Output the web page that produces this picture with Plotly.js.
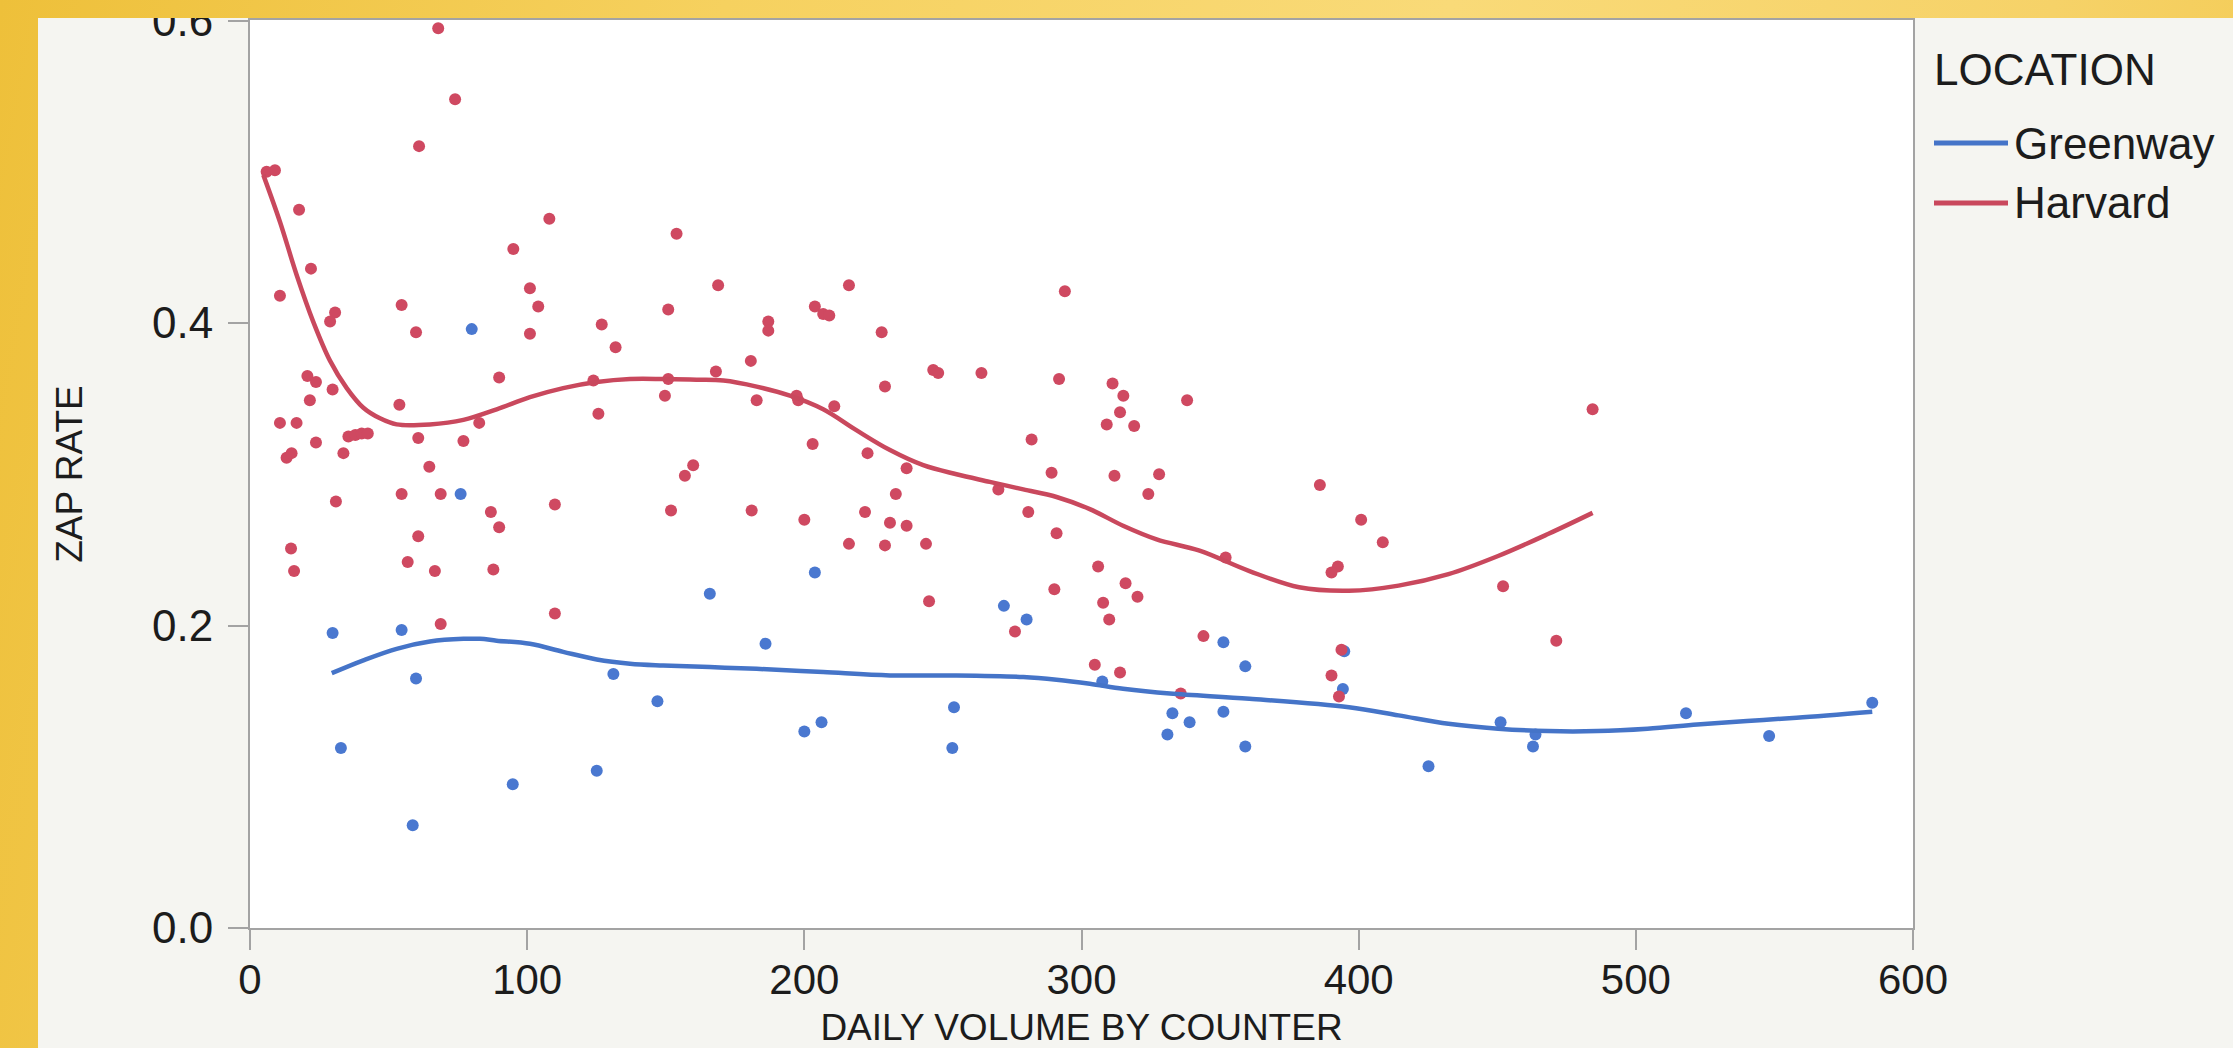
<!DOCTYPE html>
<html>
<head>
<meta charset="utf-8">
<script src="https://cdn.plot.ly/plotly-3.0.1.min.js"></script>
<style>
  html, body { margin:0; padding:0; width:2233px; height:1048px; overflow:hidden; }
  body { background: linear-gradient(100deg, #eec03a 0%, #f6d15f 30%, #f9da78 60%, #f6d268 85%, #f3ca50 100%); background-attachment: fixed; }
  #panel { position:absolute; left:38px; top:18px; right:0; bottom:0; background:#f5f5f1; }
  #chart { position:absolute; left:0; top:0; width:2233px; height:1048px; }
  #topstrip { position:absolute; left:0; top:0; width:2233px; height:18px; z-index:10; pointer-events:none;
    background: linear-gradient(100deg, #eec03a 0%, #f6d15f 30%, #f9da78 60%, #f6d268 85%, #f3ca50 100%); background-attachment: fixed; }
</style>
</head>
<body>
<div id="panel"></div>
<div id="chart"></div>
<div id="topstrip"></div>
<script>
// ---- Data ----
const harvardVolume = [6.0, 9.0, 67.9, 74.0, 61.0, 17.7, 22.0, 10.8, 30.7, 28.9, 54.7, 59.9, 95.0, 108.0, 101.0, 104.0, 101.0, 153.9, 150.9, 126.9,
  131.9, 89.9, 123.9, 150.9, 149.7, 125.7, 20.7, 23.8, 29.8, 21.6, 10.8, 16.8, 53.9, 82.7, 23.8, 35.5, 38.0, 40.3, 42.5, 33.7,
  13.2, 15.0, 60.7, 77.0, 64.7, 159.9, 156.9, 31.0, 54.7, 68.8, 14.8, 15.9, 60.7, 56.9, 66.7, 86.9, 89.9, 87.8, 110.0, 110.0,
  68.8, 151.9, 168.9, 216.1, 203.8, 206.8, 209.0, 187.0, 187.0, 227.9, 294.0, 180.7, 168.1, 246.5, 248.3, 263.9, 291.9, 311.2, 315.1, 313.9,
  309.1, 319.0, 229.1, 182.8, 197.2, 197.8, 210.8, 203.0, 222.8, 236.9, 282.0, 289.2, 311.9, 328.0, 270.0, 324.1, 233.0, 181.0, 200.0, 221.9,
  230.9, 236.9, 216.1, 229.1, 243.9, 280.8, 291.0, 306.0, 315.9, 320.2, 307.8, 310.0, 290.2, 245.0, 276.0, 304.8, 313.9, 338.1, 484.4, 386.0,
  400.9, 408.7, 352.0, 392.5, 390.2, 452.1, 344.0, 471.3, 393.8, 390.2, 392.9, 335.8];
const harvardZap = [0.500, 0.501, 0.595, 0.548, 0.517, 0.475, 0.436, 0.418, 0.407, 0.401, 0.412, 0.394, 0.449, 0.469, 0.423, 0.411, 0.393, 0.459, 0.409, 0.399,
  0.384, 0.364, 0.362, 0.363, 0.352, 0.340, 0.365, 0.361, 0.356, 0.349, 0.334, 0.334, 0.346, 0.334, 0.321, 0.325, 0.326, 0.327, 0.327, 0.314,
  0.311, 0.314, 0.324, 0.322, 0.305, 0.306, 0.299, 0.282, 0.287, 0.287, 0.251, 0.236, 0.259, 0.242, 0.236, 0.275, 0.265, 0.237, 0.280, 0.208,
  0.201, 0.276, 0.425, 0.425, 0.411, 0.406, 0.405, 0.401, 0.395, 0.394, 0.421, 0.375, 0.368, 0.369, 0.367, 0.367, 0.363, 0.360, 0.352, 0.341,
  0.333, 0.332, 0.358, 0.349, 0.352, 0.349, 0.345, 0.320, 0.314, 0.304, 0.323, 0.301, 0.299, 0.300, 0.290, 0.287, 0.287, 0.276, 0.270, 0.275,
  0.268, 0.266, 0.254, 0.253, 0.254, 0.275, 0.261, 0.239, 0.228, 0.219, 0.215, 0.204, 0.224, 0.216, 0.196, 0.174, 0.169, 0.349, 0.343, 0.293,
  0.270, 0.255, 0.245, 0.239, 0.235, 0.226, 0.193, 0.190, 0.184, 0.167, 0.153, 0.155];

const greenwayVolume = [29.8, 32.8, 54.7, 59.9, 58.7, 76.0, 80.0, 94.8, 125.1, 131.1, 147.0, 165.9, 186.0, 200.0, 203.8, 206.2, 253.4, 254.0, 272.0,
  280.2, 307.5, 331.0, 332.8, 339.0, 351.2, 351.2, 359.1, 359.1, 394.8, 394.3, 425.2, 451.2, 462.9, 463.8, 518.1, 548.1, 585.3];
const greenwayZap = [0.195, 0.119, 0.197, 0.165, 0.068, 0.287, 0.396, 0.095, 0.104, 0.168, 0.150, 0.221, 0.188, 0.130, 0.235, 0.136, 0.119, 0.146, 0.213,
  0.204, 0.163, 0.128, 0.142, 0.136, 0.189, 0.143, 0.173, 0.120, 0.183, 0.158, 0.107, 0.136, 0.120, 0.128, 0.142, 0.127, 0.149];

// smoother curves
const harvardFitVolume = [4.8, 10.8, 16.8, 22.8, 28.9, 34.9, 40.9, 46.9, 52.9, 64.9, 77.0, 89.0, 101.0, 113.0, 125.1, 137.1, 149.1, 161.1, 170.8, 182.8,
  194.8, 206.8, 218.9, 230.9, 242.9, 254.9, 266.9, 279.0, 291.0, 303.0, 315.0, 327.1, 342.6, 360.6, 378.5, 396.5, 414.4, 432.4, 450.3, 468.3, 484.4];
const harvardFitZap = [0.498, 0.467, 0.432, 0.401, 0.375, 0.357, 0.344, 0.337, 0.333, 0.333, 0.336, 0.343, 0.351, 0.357, 0.361, 0.363, 0.363, 0.3625, 0.362, 0.358,
  0.352, 0.343, 0.329, 0.316, 0.306, 0.300, 0.295, 0.290, 0.285, 0.277, 0.266, 0.257, 0.2495, 0.236, 0.2253, 0.223, 0.2264, 0.234, 0.246, 0.2605, 0.2745];

const greenwayFitVolume = [29.5, 40.9, 52.9, 64.9, 77.0, 83.0, 89.0, 101.0, 113.0, 125.1, 137.1, 149.1, 165.9, 182.8, 206.8, 230.9, 254.9, 279.0, 291.0, 303.0,
  315.0, 331.9, 360.6, 396.5, 414.4, 432.4, 450.3, 468.3, 486.2, 504.2, 522.1, 540.1, 558.0, 585.3];
const greenwayFitZap = [0.1685, 0.177, 0.1846, 0.1894, 0.1912, 0.1912, 0.190, 0.1879, 0.1826, 0.1776, 0.1748, 0.1736, 0.1725, 0.1714, 0.1692, 0.167, 0.167, 0.166, 0.1642, 0.1615,
  0.1582, 0.155, 0.1516, 0.146, 0.1406, 0.135, 0.1318, 0.1302, 0.1302, 0.1318, 0.1345, 0.1369, 0.139, 0.143];

const xTickVals = [0, 100, 200, 300, 400, 500, 600];
const yTickVals = [0, 0.2, 0.4, 0.6];
const legendTitle = 'LOCATION';
const seriesNames = ['Greenway', 'Harvard'];

// ---- Styling ----
const BLUE_PT = '#4a78d0', BLUE_LN = '#4574c8';
const RED_PT = '#cf4961', RED_LN = '#c9485d';
const FONT = 'Liberation Sans, Arial, Helvetica, sans-serif';

const W = 2233, H = 1048;
const M = {l: 250, r: 320, t: 20, b: 120};
const PW = W - M.l - M.r, PH = H - M.t - M.b;
const px = x => (x - M.l) / PW;
const py = y => (H - M.b - y) / PH;

const traces = [
  {x: greenwayVolume, y: greenwayZap, type: 'scatter', mode: 'markers', name: seriesNames[0],
   marker: {color: BLUE_PT, size: 12}, showlegend: false},
  {x: harvardVolume, y: harvardZap, type: 'scatter', mode: 'markers', name: seriesNames[1],
   marker: {color: RED_PT, size: 12}, showlegend: false},
  {x: greenwayFitVolume, y: greenwayFitZap, type: 'scatter', mode: 'lines', name: seriesNames[0],
   line: {color: BLUE_LN, width: 4.5, shape: 'spline', smoothing: 1}, showlegend: false},
  {x: harvardFitVolume, y: harvardFitZap, type: 'scatter', mode: 'lines', name: seriesNames[1],
   line: {color: RED_LN, width: 4.5, shape: 'spline', smoothing: 1}, showlegend: false}
];

const legendY = [143, 203];
const legendColors = [BLUE_LN, RED_LN];

const layout = {
  width: W, height: H,
  margin: M,
  paper_bgcolor: 'rgba(0,0,0,0)',
  plot_bgcolor: '#ffffff',
  showlegend: false,
  font: {family: FONT, color: '#1c1c1c'},
  xaxis: {
    range: [0, 600], tickvals: xTickVals, ticktext: xTickVals.map(String),
    ticks: 'outside', ticklen: 20, tickwidth: 2, tickcolor: '#a3a3a3',
    showline: true, linecolor: '#a3a3a3', linewidth: 2, mirror: true,
    showgrid: false, zeroline: false,
    tickfont: {size: 42, color: '#1c1c1c', family: FONT},
    ticklabelstandoff: -6, ticklabeloverflow: 'allow',
    title: {text: 'DAILY VOLUME BY COUNTER', font: {size: 37, color: '#1c1c1c', family: FONT}, standoff: 16}
  },
  yaxis: {
    range: [0, 0.6004], tickvals: yTickVals, ticktext: yTickVals.map(v => v.toFixed(1)),
    ticks: 'outside', ticklen: 20, tickwidth: 2, tickcolor: '#a3a3a3',
    showline: true, linecolor: '#a3a3a3', linewidth: 2, mirror: true,
    showgrid: false, zeroline: false,
    tickfont: {size: 44, color: '#1c1c1c', family: FONT},
    ticklabelstandoff: 6, ticklabeloverflow: 'allow',
    title: {text: 'ZAP RATE', font: {size: 37, color: '#1c1c1c', family: FONT}, standoff: 58}
  },
  shapes: legendY.map((yy, i) => ({
    type: 'line', xref: 'paper', yref: 'paper',
    x0: px(1934), x1: px(2008), y0: py(yy), y1: py(yy),
    line: {color: legendColors[i], width: 5}
  })),
  annotations: [
    {text: legendTitle, xref: 'paper', yref: 'paper', x: px(1932), y: py(70), xanchor: 'left', yanchor: 'middle',
     showarrow: false, font: {size: 44, color: '#1c1c1c', family: FONT}},
    ...seriesNames.map((n, i) => ({
      text: n, xref: 'paper', yref: 'paper', x: px(2012), y: py(legendY[i]), xanchor: 'left', yanchor: 'middle',
      showarrow: false, font: {size: 44, color: '#1c1c1c', family: FONT}
    }))
  ]
};

Plotly.newPlot('chart', traces, layout, {displayModeBar: false, staticPlot: true});
</script>
</body>
</html>
